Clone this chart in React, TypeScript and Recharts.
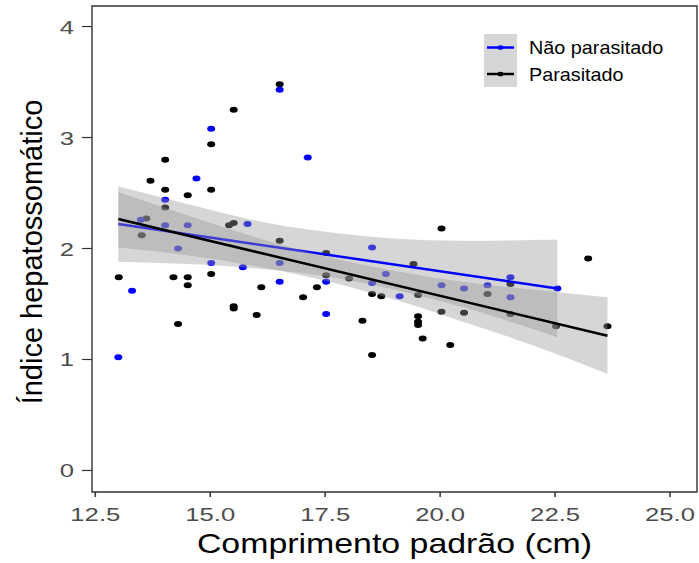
import React from 'react';
import { ComposedChart, Scatter, Line, Area, XAxis, YAxis, ReferenceArea } from 'recharts';

// axis setup
const xTicks = [12.5, 15, 17.5, 20, 22.5, 25];
const yTicks = [0, 1, 2, 3, 4];
const xDomain = [12.428, 25.587];
const yDomain = [-0.194, 4.185];

// Parasitado (black points)
const parasitadoX = [13.01, 13.51, 13.61, 13.7, 14.02, 14.02, 14.02, 14.2, 14.3, 14.51, 14.51, 14.51, 15.02, 15.02, 15.02, 15.41, 15.51, 15.51, 15.51, 15.51, 16.01, 16.11, 16.51, 16.51, 17.02, 17.32, 17.52, 17.52, 18.02, 18.31, 18.52, 18.52, 18.72, 19.42, 19.52, 19.52, 19.52, 19.52, 19.62, 20.03, 20.03, 20.22, 20.52, 21.03, 21.53, 21.53, 22.52, 23.22, 23.64];
const parasitadoY = [1.74, 2.12, 2.27, 2.61, 2.8, 2.53, 2.37, 1.74, 1.32, 2.48, 1.74, 1.67, 2.94, 2.53, 1.77, 2.21, 2.23, 3.25, 1.48, 1.46, 1.4, 1.65, 3.48, 2.07, 1.56, 1.65, 1.96, 1.76, 1.73, 1.35, 1.59, 1.04, 1.57, 1.86, 1.58, 1.39, 1.34, 1.31, 1.19, 2.18, 1.43, 1.13, 1.42, 1.59, 1.68, 1.41, 1.3, 1.91, 1.3];

// Não parasitado (blue points)
const naoParasitadoX = [13.0, 13.3, 13.49, 14.02, 14.02, 14.3, 14.51, 14.7, 15.02, 15.02, 15.71, 15.81, 16.51, 16.51, 16.51, 17.12, 17.52, 17.52, 18.52, 18.52, 18.82, 19.12, 20.03, 20.52, 21.03, 21.53, 21.53, 22.55];
const naoParasitadoY = [1.02, 1.62, 2.26, 2.44, 2.21, 2.0, 2.21, 2.63, 3.08, 1.87, 1.83, 2.22, 3.43, 1.87, 1.7, 2.82, 1.7, 1.41, 2.01, 1.69, 1.77, 1.57, 1.67, 1.64, 1.67, 1.74, 1.56, 1.64];

// fitted lines (ends)
const naoFitX = [13, 22.55];
const naoFitY = [2.22, 1.64];
const parFitX = [13, 23.64];
const parFitY = [2.266, 1.214];

// confidence bands
const naoBandX = [13, 14.5, 16, 17.5, 19, 20.5, 22.55];
const naoBandLo = [1.88, 1.86, 1.82, 1.75, 1.63, 1.47, 1.2];
const naoBandHi = [2.56, 2.4, 2.25, 2.15, 2.09, 2.07, 2.08];
const parBandX = [13, 14.5, 16, 17.5, 19, 20.5, 22, 23.64];
const parBandLo = [2.01, 1.94, 1.84, 1.71, 1.54, 1.34, 1.13, 0.87];
const parBandHi = [2.51, 2.3, 2.1, 1.93, 1.8, 1.7, 1.63, 1.56];

const FONT = '"Liberation Sans", Arial, Helvetica, sans-serif';
const BLUE = '#0000ff';

const toPoints = (xs: number[], ys: number[]) => xs.map((x, i) => ({ x, y: ys[i] }));
const toBand = (xs: number[], lo: number[], hi: number[]) => xs.map((x, i) => ({ x, band: [lo[i], hi[i]] }));

const parPoints = toPoints(parasitadoX, parasitadoY);
const naoPoints = toPoints(naoParasitadoX, naoParasitadoY);
const parFit = toPoints(parFitX, parFitY);
const naoFit = toPoints(naoFitX, naoFitY);
const parBand = toBand(parBandX, parBandLo, parBandHi);
const naoBand = toBand(naoBandX, naoBandLo, naoBandHi);

function dotShape(color: string) {
  return (props: any) => <ellipse cx={props.cx} cy={props.cy} rx={4} ry={3} fill={color} />;
}

function XTick({ x, y, payload }: any) {
  return (
    <g transform={`translate(${x},${y + 22}) scale(1.35,1)`}>
      <text x={0} y={0} textAnchor="middle" fontSize={19} fill="#4d4d4d" fontFamily={FONT}>
        {Number(payload.value).toFixed(1)}
      </text>
    </g>
  );
}

function YTick({ x, y, payload }: any) {
  return (
    <g transform={`translate(${x - 6},${y + 7}) scale(1.35,1)`}>
      <text x={0} y={0} textAnchor="end" fontSize={19} fill="#4d4d4d" fontFamily={FONT}>
        {payload.value}
      </text>
    </g>
  );
}

function Legendbox() {
  return (
    <div style={{ position: 'absolute', left: 484, top: 34 }}>
      <svg width={200} height={54}>
        <rect x={0} y={0} width={33} height={53} fill="#d6d6d6" />
        <line x1={3} x2={30} y1={13.5} y2={13.5} stroke={BLUE} strokeWidth={2.5} />
        <ellipse cx={16.5} cy={13.5} rx={3} ry={2.3} fill={BLUE} />
        <line x1={3} x2={30} y1={40} y2={40} stroke="#000" strokeWidth={2.5} />
        <ellipse cx={16.5} cy={40} rx={3} ry={2.3} fill="#000" />
        <g transform="translate(45,20) scale(1.1,1)">
          <text fontSize={18} fontFamily={FONT} fill="#000">Não parasitado</text>
        </g>
        <g transform="translate(45,46.5) scale(1.1,1)">
          <text fontSize={18} fontFamily={FONT} fill="#000">Parasitado</text>
        </g>
      </svg>
    </div>
  );
}

export default function App() {
  return (
    <div style={{ position: 'relative', width: 699, height: 563, background: '#fff' }}>
      <style>{'body{margin:0}'}</style>
      <ComposedChart width={699} height={563} margin={{ top: 6, right: 2, bottom: 0, left: 0 }}>
        <XAxis
          type="number"
          dataKey="x"
          domain={xDomain}
          allowDataOverflow
          ticks={xTicks}
          height={71}
          axisLine={false}
          tickLine={{ stroke: '#333', strokeWidth: 1.5 }}
          tickSize={5}
          tick={<XTick />}
          label={{
            content: () => (
              <g transform="translate(394.5,553) scale(1.21,1)">
                <text textAnchor="middle" fontSize={28} fontFamily={FONT} fill="#000">
                  Comprimento padrão (cm)
                </text>
              </g>
            ),
          }}
        />
        <YAxis
          type="number"
          domain={yDomain}
          allowDataOverflow
          ticks={yTicks}
          width={92}
          axisLine={false}
          tickLine={{ stroke: '#333', strokeWidth: 1.2 }}
          tickSize={10}
          tick={<YTick />}
          label={{
            content: () => (
              <text
                transform="translate(42,252) rotate(-90)"
                textAnchor="middle"
                fontSize={29}
                fontFamily={FONT}
                fill="#000"
              >
                Índice hepatossomático
              </text>
            ),
          }}
        />
        <Scatter data={parPoints} dataKey="y" shape={dotShape('#000')} isAnimationActive={false} zIndex={50} />
        <Scatter data={naoPoints} dataKey="y" shape={dotShape(BLUE)} isAnimationActive={false} zIndex={51} />
        <Area
          data={naoBand}
          dataKey="band"
          type="monotone"
          fill="#999999"
          fillOpacity={0.4}
          stroke="none"
          isAnimationActive={false}
          zIndex={100}
        />
        <Line
          data={naoFit}
          dataKey="y"
          type="linear"
          stroke={BLUE}
          strokeWidth={2.5}
          dot={false}
          isAnimationActive={false}
          zIndex={110}
        />
        <Area
          data={parBand}
          dataKey="band"
          type="monotone"
          fill="#999999"
          fillOpacity={0.4}
          stroke="none"
          isAnimationActive={false}
          zIndex={120}
        />
        <Line
          data={parFit}
          dataKey="y"
          type="linear"
          stroke="#000"
          strokeWidth={2.5}
          dot={false}
          isAnimationActive={false}
          zIndex={130}
        />
        <ReferenceArea
          x1={xDomain[0]}
          x2={xDomain[1]}
          y1={yDomain[0]}
          y2={yDomain[1]}
          fill="none"
          stroke="#333"
          strokeWidth={1.4}
          ifOverflow="visible"
          zIndex={200}
        />
      </ComposedChart>
      <Legendbox />
    </div>
  );
}
